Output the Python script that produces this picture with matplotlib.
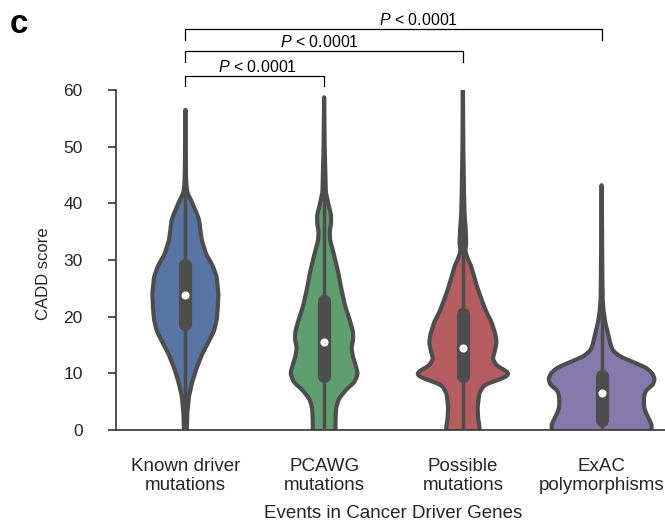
import numpy as np
import matplotlib
matplotlib.use("Agg")
import matplotlib.pyplot as plt

plt.rcParams['font.family'] = ['Liberation Sans', 'DejaVu Sans']
plt.rcParams['mathtext.fontset'] = 'custom'
plt.rcParams['mathtext.it'] = 'Liberation Sans:italic'
plt.rcParams['mathtext.rm'] = 'Liberation Sans'

categories = ["Known driver\nmutations", "PCAWG\nmutations",
              "Possible\nmutations", "ExAC\npolymorphisms"]
fill_colors = ["#5875a4", "#5f9e6e", "#b55d60", "#857aab"]

# violin outlines: score and half-width (category units)
known_y = [-1, 0, 3, 6, 8.5, 11, 13.5, 15.5, 17.5, 19.5, 21.5, 24, 27, 29, 31,
           33.5, 35.3, 37, 38.2, 40.6, 41.8, 43, 45, 50, 56.5]
known_w = [0.006, 0.01, 0.014, 0.026, 0.05, 0.082, 0.123, 0.166, 0.207, 0.226,
           0.233, 0.238, 0.226, 0.197, 0.15, 0.118, 0.108, 0.1, 0.082, 0.04,
           0.015, 0.008, 0.004, 0.002, 0.0]

pcawg_y = [-1, 0, 2, 4, 5.5, 7, 8.5, 10, 11.5, 13, 14.5, 16, 17.5, 19.5, 22, 25,
           28, 31, 33.5, 35, 36.5, 38, 39.5, 42, 50, 58.7]
pcawg_w = [0.08, 0.082, 0.082, 0.087, 0.106, 0.154, 0.221, 0.243, 0.226, 0.207,
           0.197, 0.21, 0.207, 0.183, 0.15, 0.123, 0.1, 0.07, 0.043, 0.04, 0.05,
           0.05, 0.034, 0.012, 0.004, 0.0]

possible_y = [-1, 0.5, 2, 4, 6.5, 8, 9, 9.7, 10.3, 11.3, 12.5, 14, 15.5, 17, 19,
              21, 23, 25, 27, 29, 30.3, 31.5, 33, 35.5, 38, 42, 50, 62]
possible_w = [0.12, 0.12, 0.11, 0.106, 0.118, 0.154, 0.274, 0.335, 0.322, 0.245,
              0.214, 0.231, 0.243, 0.233, 0.207, 0.166, 0.135, 0.106, 0.082,
              0.058, 0.034, 0.017, 0.024, 0.02, 0.012, 0.008, 0.003, 0.0]

exac_y = [-1.5, 0, 1, 2, 3, 4, 5, 6, 7, 8, 9, 10, 11, 12, 13, 14, 15, 17, 19,
          21, 23, 27, 35, 43.2]
exac_w = [0.3, 0.36, 0.36, 0.34, 0.32, 0.306, 0.305, 0.306, 0.32, 0.37, 0.383,
          0.366, 0.32, 0.226, 0.13, 0.082, 0.065, 0.046, 0.026, 0.014, 0.007,
          0.005, 0.003, 0.0]

# inner box: quartiles, medians, whiskers
q1 = [18.7, 9.6, 9.6, 1.7]
med = [23.8, 15.6, 14.4, 6.6]
q3 = [29.2, 22.7, 20.4, 9.5]
whisk_lo = [0, 0, 0, 0]
whisk_hi = [49, 46, 41, 25]

# significance brackets
pairs = [(0, 1), (0, 2), (0, 3)]
bracket_y = [62.5, 66.9, 70.7]
bracket_drop = [60.7, 65.0, 68.8]
p_text_x = [0.52, 0.97, 1.68]
p_text_y = [63.2, 67.6, 71.4]
p_labels = ["$P$ < 0.0001", "$P$ < 0.0001", "$P$ < 0.0001"]

yticks = [0, 10, 20, 30, 40, 50, 60]

profiles = [(known_y, known_w), (pcawg_y, pcawg_w),
            (possible_y, possible_w), (exac_y, exac_w)]

gray = "#4d4d4d"
W, H = 665, 526
fig = plt.figure(figsize=(W / 100, H / 100), dpi=100)
ax = fig.add_axes([116 / W, (H - 430) / H, 555 / W, 340 / H])

def smooth(v, sigma):
    k = np.arange(-3 * sigma, 3 * sigma + 1)
    g = np.exp(-0.5 * (k / sigma) ** 2)
    g /= g.sum()
    pad = int(3 * sigma)
    vp = np.pad(v, pad, mode='edge')
    return np.convolve(vp, g, mode='valid')

for i, (ys, ws) in enumerate(profiles):
    grid = np.linspace(ys[0], ys[-1], 800)
    w = np.interp(grid, ys, ws)
    w = smooth(w, 4)
    w[-1] = 0
    xs = np.concatenate([i - w, (i + w)[::-1]])
    yy = np.concatenate([grid, grid[::-1]])
    ax.fill(xs, yy, facecolor=fill_colors[i], edgecolor=gray, lw=3,
            joinstyle='round', zorder=2)
    ax.plot([i, i], [whisk_lo[i], whisk_hi[i]], color=gray, lw=2.5,
            solid_capstyle='butt', zorder=3)
    ax.plot([i, i], [q1[i], q3[i]], color=gray, lw=9.5,
            solid_capstyle='round', zorder=4)
    ax.scatter([i], [med[i]], s=34, color='white', zorder=5, linewidths=0)

for (a, b), by, bd, tx, ty, lab in zip(pairs, bracket_y, bracket_drop,
                                      p_text_x, p_text_y, p_labels):
    ax.plot([a, a, b, b], [bd, by, by, bd], color='black', lw=0.9,
            clip_on=False, zorder=6)
    ax.text(tx, ty, lab, ha='center', va='baseline', fontsize=11.5,
            color='black')

ax.set_xlim(-0.5, 3.5)
ax.set_ylim(0, 60)
ax.set_yticks(yticks)
ax.set_xticks(range(len(categories)))
ax.set_xticklabels(categories, fontsize=13.5, color='#262626')
ax.tick_params(axis='y', direction='out', length=6, width=1.2, color='#333333',
               labelsize=12.5, pad=18, labelcolor='#262626')
ax.tick_params(axis='x', length=0, pad=20)
for s in ['top', 'right']:
    ax.spines[s].set_visible(False)
for s in ['left', 'bottom']:
    ax.spines[s].set_color('#333333')
    ax.spines[s].set_linewidth(1.2)

ax.set_xlabel("Events in Cancer Driver Genes", fontsize=13.5, color='#262626',
              labelpad=8)
ax.set_ylabel("CADD score", fontsize=12, color='#262626')
ax.yaxis.set_label_coords(-0.118, 0.46)

fig.text(10 / W, 1 - 33 / H, "c", fontsize=24, fontweight='bold')

fig.savefig("out.png", dpi=100)
